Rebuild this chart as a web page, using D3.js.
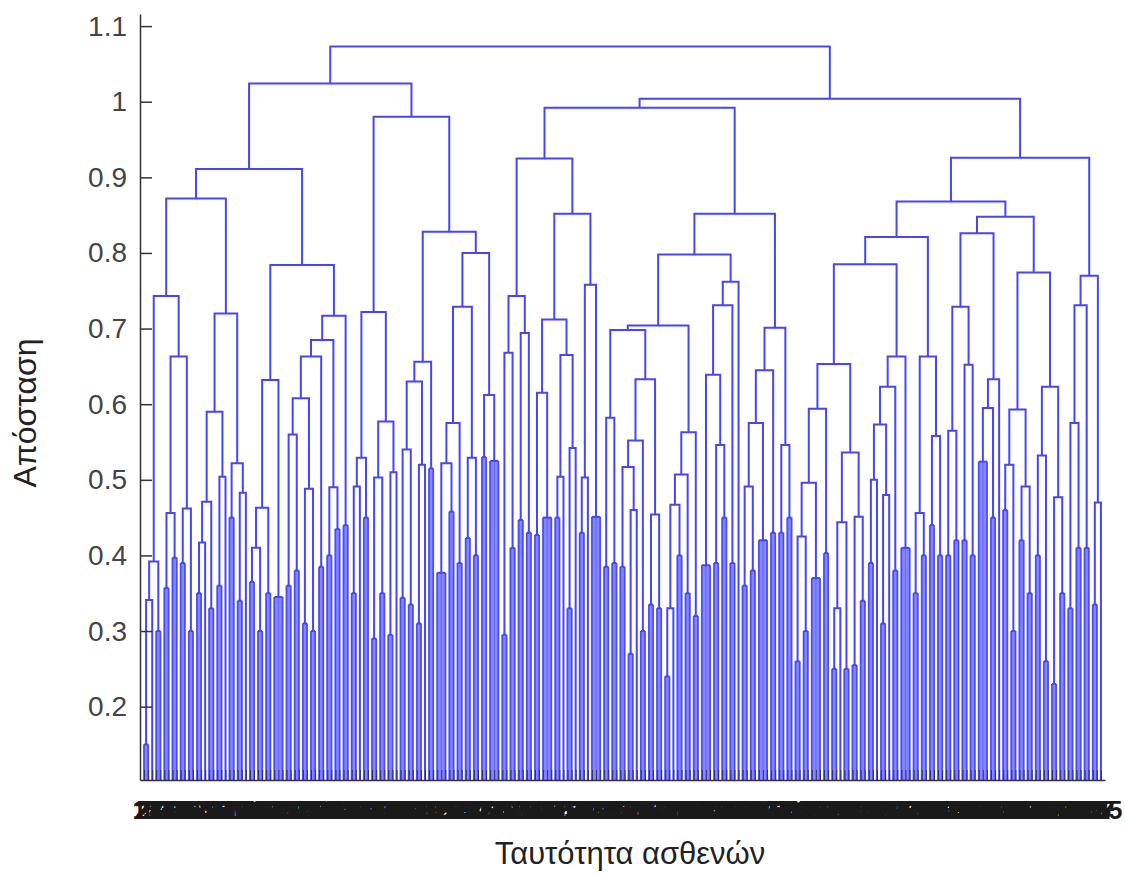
<!DOCTYPE html>
<html>
<head>
<meta charset="utf-8">
<script src="https://cdn.jsdelivr.net/npm/d3@7"></script>
<style>
  body { margin: 0; background: #fff; }
  svg { display: block; }
</style>
</head>
<body>
<div id="chart"></div>
<script>
// Dendrogram: a node is [height, left, right], a bottom cluster is [height, leafCount]
var yTicks = [0.2, 0.3, 0.4, 0.5, 0.6, 0.7, 0.8, 0.9, 1, 1.1];
var yTickLabels = ["0.2", "0.3", "0.4", "0.5", "0.6", "0.7", "0.8", "0.9", "1", "1.1"];
var yLimits = [0.103, 1.116];

var t1 = [0.872,
	[0.743,
		[0.392, [0.341, [0.15, 2], [0.3, 1]], [0.3, 2]],
		[0.663, [0.456, [0.357, 2], [0.397, 2]], [0.462, [0.39, 2], [0.3, 2]]]],
	[0.72,
		[0.59, [0.471, [0.417, [0.35, 2], [0.3, 1]], [0.33, 2]], [0.504, [0.36, 2], [0.3, 1]]],
		[0.522, [0.45, 2], [0.483, [0.34, 2], [0.3, 1]]]]];
var t2 = [0.784,
	[0.632, [0.463, [0.41, [0.365, 2], [0.3, 2]], [0.35, 2]], [0.345, 3]],
	[0.717,
		[0.685,
			[0.663,
				[0.608, [0.56, [0.36, 2], [0.38, 2]], [0.488, [0.31, 2], [0.3, 2]]],
				[0.385, 2]],
			[0.49, [0.4, 2], [0.435, 2]]],
		[0.44, 2]]];
var t3 = [0.722,
	[0.529, [0.491, [0.35, 2], [0.4, 1]], [0.45, 2]],
	[0.577, [0.503, [0.29, 2], [0.35, 2]], [0.51, [0.295, 2], [0.35, 1]]]];
var t4 = [0.828,
	[0.656,
		[0.63, [0.54, [0.344, 2], [0.335, 2]], [0.52, [0.31, 2], [0.35, 1]]],
		[0.515, 2]],
	[0.80,
		[0.729,
			[0.575, [0.522, [0.377, 3], [0.458, 2]], [0.39, 2]],
			[0.529, [0.423, 2], [0.4, 2]]],
		[0.612, [0.53, 2], [0.525, 3]]]];
var t5 = [0.743, [0.668, [0.295, 2], [0.41, 2]], [0.694, [0.447, 2], [0.43, 2]]];
var t6 = [0.852,
	[0.712,
		[0.615, [0.427, 2], [0.45, 3]],
		[0.665, [0.504, [0.45, 2], [0.42, 1]], [0.542, [0.33, 2], [0.4, 1]]]],
	[0.758, [0.503, [0.43, 2], [0.42, 1]], [0.451, 3]]];
var t7 = [0.852,
	[0.798,
		[0.704,
			[0.698,
				[0.582, [0.385, 2], [0.39, 2]],
				[0.633,
					[0.552, [0.517, [0.385, 2], [0.46, [0.27, 2], [0.35, 1]]], [0.3, 2]],
					[0.454, [0.335, 2], [0.33, 2]]]],
			[0.563, [0.507, [0.467, [0.33, [0.24, 2], [0.3, 1]], [0.4, 2]], [0.35, 2]], [0.32, 2]]],
		[0.762,
			[0.731, [0.639, [0.387, 3], [0.546, [0.39, 2], [0.45, 2]]], [0.39, 2]],
			[0.3, 1]]],
	[0.701,
		[0.645, [0.575, [0.491, [0.36, 2], [0.38, 2]], [0.42, 3]], [0.43, 2]],
		[0.546, [0.43, 2], [0.45, 2]]]];
var t8 = [0.821,
	[0.785,
		[0.653,
			[0.594, [0.496, [0.425, [0.26, 2], [0.3, 2]], [0.37, 3]], [0.403, 2]],
			[0.536, [0.444, [0.33, [0.25, 2], [0.3, 1]], [0.25, 2]], [0.451, [0.255, 2], [0.34, 2]]]],
		[0.663,
			[0.623, [0.573, [0.5, [0.39, 2], [0.45, 1]], [0.48, [0.31, 2], [0.4, 1]]], [0.38, 2]],
			[0.41, 3]]],
	[0.663,
		[0.456, [0.35, 2], [0.4, 2]],
		[0.558, [0.44, 2], [0.4, 2]]]];
var t9 = [0.848,
	[0.826,
		[0.729, [0.565, [0.4, 2], [0.42, 2]], [0.652, [0.42, 2], [0.4, 2]]],
		[0.633, [0.595, [0.524, 3], [0.45, 2]], [0.337, 1]]],
	[0.774,
		[0.593, [0.52, [0.46, 2], [0.3, 2]], [0.491, [0.42, 2], [0.35, 2]]],
		[0.623, [0.532, [0.4, 2], [0.26, 2]], [0.477, [0.23, 2], [0.35, 2]]]]];
var t10 = [0.77,
	[0.731, [0.575, [0.33, 2], [0.41, 2]], [0.41, 2]],
	[0.47, [0.335, 2], [0.3, 1]]];

var tree = [1.073,
	[1.024, [0.911, t1, t2], [0.98, t3, t4]],
	[1.004, [0.992, [0.925, t5, t6], t7], [0.926, [0.868, t8, t9], t10]]];

var leafIds = [2, 24, 117, 53, 198, 71, 140, 9, 226, 88, 163, 35, 204, 112, 57, 181, 14, 233, 96, 150,
	67, 129, 40, 211, 5, 174, 102, 61, 219, 143, 28, 187, 79, 125, 46, 230, 157, 11, 200, 93,
	136, 19, 168, 74, 215, 50, 109, 192, 31, 146, 83, 224, 7, 161, 120, 58, 207, 99, 178, 37,
	132, 64, 228, 16, 153, 90, 196, 43, 114, 171, 3, 221, 105, 69, 184, 26, 139, 208, 52, 160,
	87, 235, 12, 123, 47, 190, 76, 148, 20, 217, 101, 59, 166, 134, 33, 202, 81, 118, 227, 8,
	155, 42, 179, 95, 210, 63, 127, 22, 194, 72, 141, 231, 48, 106, 175, 15, 213, 91, 158, 36,
	122, 66, 199, 1, 144, 84, 232, 54, 170, 110, 27, 205, 78, 137, 17, 188, 97, 152, 45, 223,
	62, 115, 182, 30, 164, 86, 214, 10, 130, 70, 197, 41, 149, 103, 234, 23, 176, 56, 121, 209,
	80, 142, 4, 186, 94, 159, 38, 218, 111, 65, 193, 29, 135, 100, 225, 51, 169, 13, 147, 82,
	203, 44, 126, 173, 21, 229, 92, 156, 60, 116, 189, 34, 212, 75, 138, 6, 167, 104, 220, 49,
	131, 77, 195, 18, 154, 89, 236, 39, 124, 172, 55, 206, 98, 145, 25, 183, 68, 119, 216, 32,
	162, 73, 201, 107, 151, 113, 180, 128, 222, 108, 165, 133, 191, 177, 85, 185];

var width = 1125, height = 874;
var plotLeft = 140, plotRight = 1105, plotTop = 14, plotBottom = 780;
var lineColor = "#4646f2";
var fillColor = "#8686ff";
var fontFamily = "'Liberation Sans', Arial, Helvetica, sans-serif";

// walk the tree and give every leaf an index
var leafCounter = 0;
function layout(node){
	if (node.length == 2){
		var first = leafCounter + 1;
		leafCounter += node[1];
		var last = leafCounter;
		return {cluster: true, h: node[1] > 1 ? node[0] : yLimits[0], first: first, last: last, x: (first + last) / 2};
	}
	var l = layout(node[1]);
	var r = layout(node[2]);
	return {cluster: false, h: node[0], left: l, right: r, x: (l.x + r.x) / 2};
}
var root = layout(tree);
var nLeaves = leafCounter;

var xScale = d3.scaleLinear().domain([0, nLeaves + 1]).range([plotLeft, plotRight]);
var yScale = d3.scaleLinear().domain(yLimits).range([plotBottom, plotTop]);

var clusters = [], links = [];
function collect(n){
	if (n.cluster){
		if (n.last > n.first) clusters.push(n);
		return;
	}
	links.push(n);
	collect(n.left);
	collect(n.right);
}
collect(root);

var svg = d3.select("#chart").append("svg")
	.attr("width", width)
	.attr("height", height);

// bottom clusters: dense leaves drawn as a filled comb
var cl = svg.append("g");
cl.selectAll(".cluster-fill")
	.data(clusters).enter()
	.append("rect")
		.attr("class", "cluster-fill")
		.attr("x", function(d){ return xScale(d.first) - 1; })
		.attr("y", function(d){ return yScale(d.h); })
		.attr("width", function(d){ return xScale(d.last) - xScale(d.first) + 2; })
		.attr("height", function(d){ return yScale(yLimits[0]) - yScale(d.h); })
		.attr("fill", fillColor);

var leafLines = [];
clusters.forEach(function(c){
	for (var i = c.first; i <= c.last; ++i){
		leafLines.push({i: i, h: c.h, edge: (i == c.first || i == c.last)});
	}
});
cl.selectAll(".leaf")
	.data(leafLines).enter()
	.append("line")
		.attr("class", "leaf")
		.attr("x1", function(d){ return xScale(d.i); })
		.attr("x2", function(d){ return xScale(d.i); })
		.attr("y1", yScale(yLimits[0]))
		.attr("y2", function(d){ return yScale(d.h); })
		.attr("stroke", lineColor)
		.attr("stroke-width", function(d){ return d.edge ? 1.6 : 1; })
		.attr("stroke-opacity", function(d){ return d.edge ? 0.9 : 0.5; });
cl.selectAll(".cluster-top")
	.data(clusters).enter()
	.append("line")
		.attr("class", "cluster-top")
		.attr("x1", function(d){ return xScale(d.first); })
		.attr("x2", function(d){ return xScale(d.last); })
		.attr("y1", function(d){ return yScale(d.h); })
		.attr("y2", function(d){ return yScale(d.h); })
		.attr("stroke", lineColor)
		.attr("stroke-width", 2);

// merge links
svg.append("g").selectAll(".link")
	.data(links).enter()
	.append("path")
		.attr("class", "link")
		.attr("d", function(d){
			return "M" + xScale(d.left.x) + "," + yScale(d.left.h) +
				"V" + yScale(d.h) +
				"H" + xScale(d.right.x) +
				"V" + yScale(d.right.h);
		})
		.attr("fill", "none")
		.attr("stroke", lineColor)
		.attr("stroke-width", 2);

// axes
var leafIndex = d3.range(1, nLeaves + 1);
var xAxis = d3.axisBottom(xScale)
	.tickValues(leafIndex)
	.tickFormat(function(d){ return leafIds[d - 1]; })
	.tickSizeInner(-10)
	.tickSizeOuter(0)
	.tickPadding(21);
var gx = svg.append("g")
	.attr("transform", "translate(0," + plotBottom + ")")
	.call(xAxis);
gx.select(".domain").attr("stroke", "#333").attr("stroke-width", 1.5);
gx.selectAll(".tick line").attr("stroke", "#262660").attr("stroke-opacity", 0.8);
gx.selectAll(".tick text")
	.attr("fill", "#1a1a1a")
	.style("font-size", "25px")
	.style("font-weight", "bold")
	.style("font-family", fontFamily);

var yAxis = d3.axisLeft(yScale)
	.tickValues(yTicks)
	.tickFormat(function(d, i){ return yTickLabels[i]; })
	.tickSizeInner(-12)
	.tickSizeOuter(0)
	.tickPadding(13);
var gy = svg.append("g")
	.attr("transform", "translate(" + plotLeft + ",0)")
	.call(yAxis);
gy.select(".domain").attr("stroke", "#333").attr("stroke-width", 1.5);
gy.selectAll(".tick line").attr("stroke", "#333").attr("stroke-width", 1.5);
gy.selectAll(".tick text")
	.attr("fill", "#444")
	.style("font-size", "28px")
	.style("font-family", fontFamily);

svg.append("text")
	.text("Απόσταση")
	.attr("transform", "translate(36,413) rotate(-90)")
	.attr("text-anchor", "middle")
	.attr("fill", "#222")
	.style("font-size", "32px")
	.style("font-family", fontFamily);

svg.append("text")
	.text("Ταυτότητα ασθενών")
	.attr("x", 630)
	.attr("y", 864)
	.attr("text-anchor", "middle")
	.attr("fill", "#222")
	.style("font-size", "31px")
	.style("font-family", fontFamily);
</script>
</body>
</html>
